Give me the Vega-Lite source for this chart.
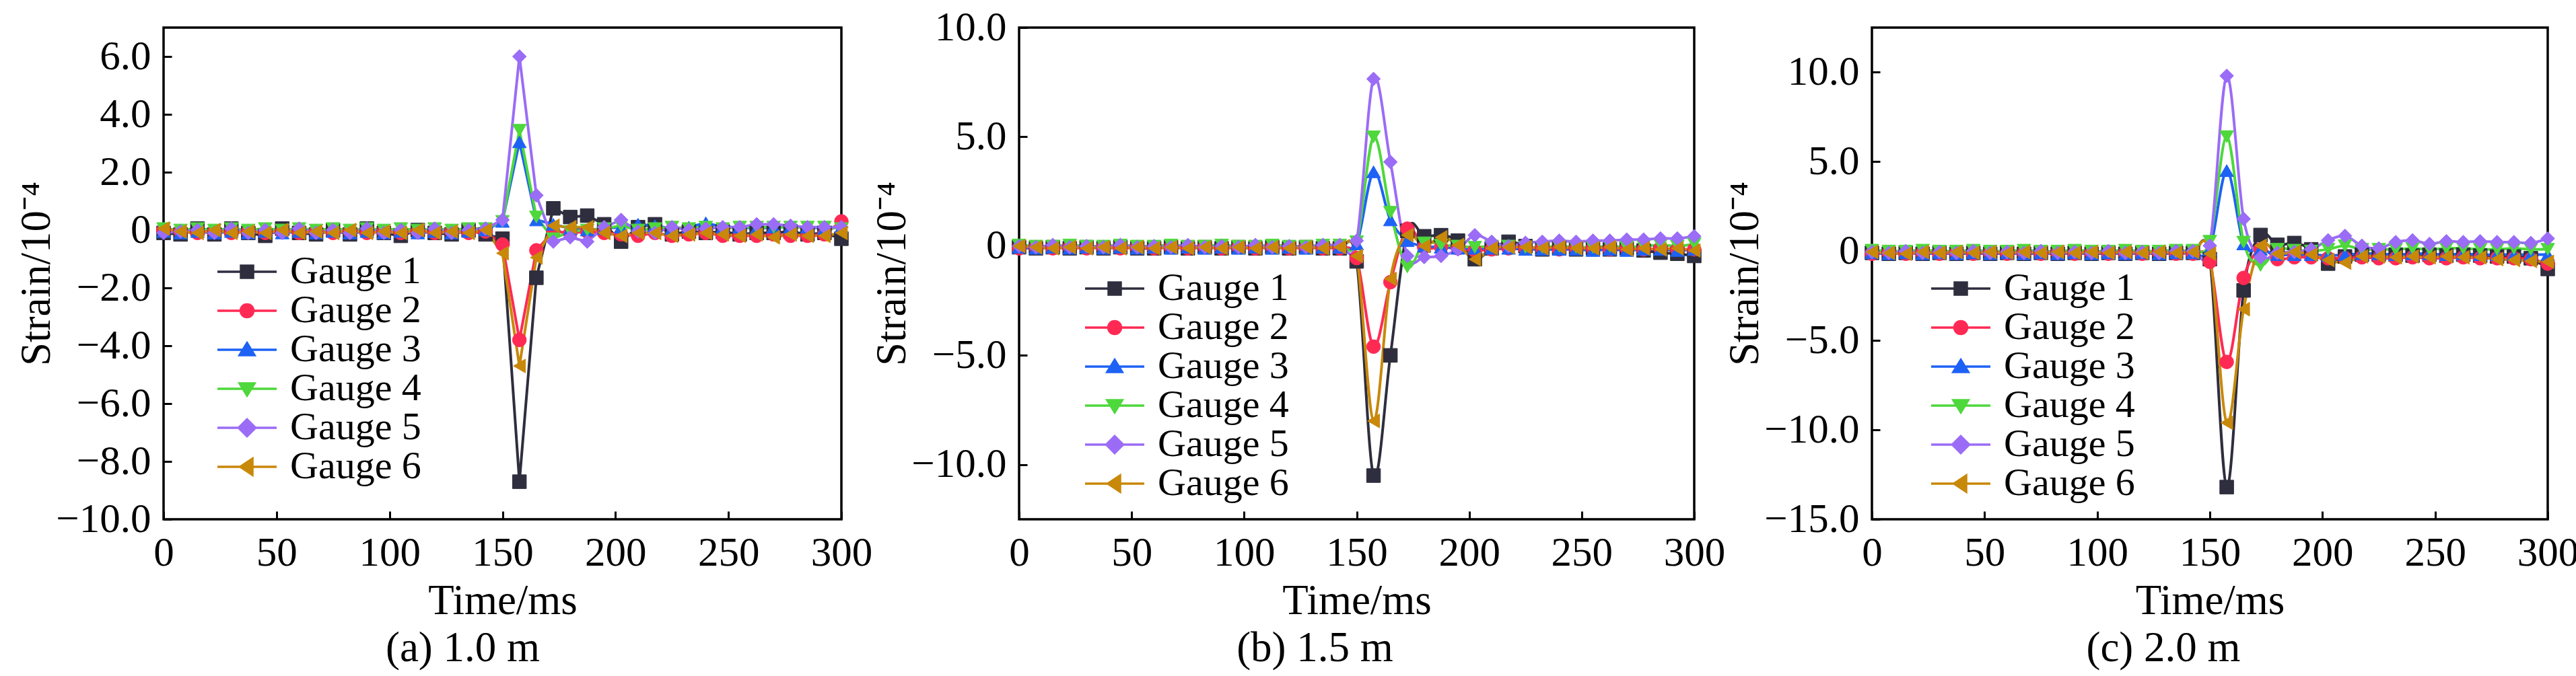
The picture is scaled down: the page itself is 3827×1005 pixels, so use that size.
{
  "$schema": "https://vega.github.io/schema/vega-lite/v6.json",
  "padding": {"left": 22, "top": 8, "right": 5, "bottom": 5},
  "background": "white",
  "datasets": {
    "a": [
      {"t": 0, "Gauge 1": -0.1, "Gauge 2": 0.0, "Gauge 3": -0.05, "Gauge 4": 0.05, "Gauge 5": -0.1, "Gauge 6": 0.05},
      {"t": 7.5, "Gauge 1": -0.15, "Gauge 2": -0.05, "Gauge 3": -0.1, "Gauge 4": 0.0, "Gauge 5": -0.05, "Gauge 6": -0.05},
      {"t": 15, "Gauge 1": 0.05, "Gauge 2": -0.1, "Gauge 3": -0.05, "Gauge 4": 0.05, "Gauge 5": 0.0, "Gauge 6": -0.1},
      {"t": 22.5, "Gauge 1": -0.15, "Gauge 2": -0.05, "Gauge 3": -0.1, "Gauge 4": 0.0, "Gauge 5": -0.1, "Gauge 6": 0.0},
      {"t": 30, "Gauge 1": 0.05, "Gauge 2": -0.1, "Gauge 3": -0.05, "Gauge 4": 0.05, "Gauge 5": 0.05, "Gauge 6": -0.1},
      {"t": 37.5, "Gauge 1": -0.1, "Gauge 2": -0.05, "Gauge 3": -0.1, "Gauge 4": 0.0, "Gauge 5": -0.1, "Gauge 6": -0.05},
      {"t": 45, "Gauge 1": -0.2, "Gauge 2": -0.1, "Gauge 3": -0.05, "Gauge 4": 0.05, "Gauge 5": 0.0, "Gauge 6": -0.1},
      {"t": 52.5, "Gauge 1": 0.05, "Gauge 2": -0.05, "Gauge 3": -0.1, "Gauge 4": 0.0, "Gauge 5": -0.1, "Gauge 6": 0.0},
      {"t": 60, "Gauge 1": -0.1, "Gauge 2": -0.1, "Gauge 3": -0.05, "Gauge 4": 0.05, "Gauge 5": 0.05, "Gauge 6": -0.1},
      {"t": 67.5, "Gauge 1": -0.15, "Gauge 2": -0.05, "Gauge 3": -0.1, "Gauge 4": 0.0, "Gauge 5": -0.1, "Gauge 6": -0.05},
      {"t": 75, "Gauge 1": 0.0, "Gauge 2": -0.1, "Gauge 3": -0.05, "Gauge 4": 0.05, "Gauge 5": 0.0, "Gauge 6": -0.1},
      {"t": 82.5, "Gauge 1": -0.15, "Gauge 2": -0.05, "Gauge 3": -0.1, "Gauge 4": 0.0, "Gauge 5": -0.1, "Gauge 6": 0.0},
      {"t": 90, "Gauge 1": 0.05, "Gauge 2": -0.1, "Gauge 3": -0.05, "Gauge 4": 0.05, "Gauge 5": 0.05, "Gauge 6": -0.1},
      {"t": 97.5, "Gauge 1": -0.1, "Gauge 2": -0.05, "Gauge 3": -0.1, "Gauge 4": 0.0, "Gauge 5": -0.1, "Gauge 6": -0.05},
      {"t": 105, "Gauge 1": -0.2, "Gauge 2": -0.1, "Gauge 3": -0.05, "Gauge 4": 0.05, "Gauge 5": 0.0, "Gauge 6": -0.1},
      {"t": 112.5, "Gauge 1": 0.0, "Gauge 2": -0.05, "Gauge 3": -0.1, "Gauge 4": 0.0, "Gauge 5": -0.1, "Gauge 6": 0.0},
      {"t": 120, "Gauge 1": -0.1, "Gauge 2": -0.1, "Gauge 3": -0.05, "Gauge 4": 0.05, "Gauge 5": 0.05, "Gauge 6": -0.1},
      {"t": 127.5, "Gauge 1": -0.15, "Gauge 2": -0.05, "Gauge 3": -0.1, "Gauge 4": 0.0, "Gauge 5": -0.1, "Gauge 6": -0.05},
      {"t": 135, "Gauge 1": 0.0, "Gauge 2": -0.1, "Gauge 3": -0.05, "Gauge 4": 0.05, "Gauge 5": 0.0, "Gauge 6": -0.1},
      {"t": 142.5, "Gauge 1": -0.15, "Gauge 2": -0.05, "Gauge 3": 0.0, "Gauge 4": 0.05, "Gauge 5": 0.05, "Gauge 6": 0.0},
      {"t": 150, "Gauge 1": -0.3, "Gauge 2": -0.5, "Gauge 3": 0.3, "Gauge 4": 0.3, "Gauge 5": 0.35, "Gauge 6": -0.8},
      {"t": 157.5, "Gauge 1": -8.7, "Gauge 2": -3.8, "Gauge 3": 3.05, "Gauge 4": 3.45, "Gauge 5": 6.0, "Gauge 6": -4.7},
      {"t": 165, "Gauge 1": -1.65, "Gauge 2": -0.7, "Gauge 3": 0.35, "Gauge 4": 0.45, "Gauge 5": 1.2, "Gauge 6": -0.95},
      {"t": 172.5, "Gauge 1": 0.75, "Gauge 2": -0.05, "Gauge 3": 0.2, "Gauge 4": -0.3, "Gauge 5": -0.4, "Gauge 6": 0.15},
      {"t": 180, "Gauge 1": 0.45, "Gauge 2": -0.1, "Gauge 3": 0.05, "Gauge 4": -0.05, "Gauge 5": -0.25, "Gauge 6": 0.1},
      {"t": 187.5, "Gauge 1": 0.5, "Gauge 2": -0.05, "Gauge 3": 0.0, "Gauge 4": 0.0, "Gauge 5": -0.4, "Gauge 6": 0.1},
      {"t": 195, "Gauge 1": 0.2, "Gauge 2": -0.1, "Gauge 3": 0.05, "Gauge 4": 0.05, "Gauge 5": 0.1, "Gauge 6": -0.1},
      {"t": 202.5, "Gauge 1": -0.4, "Gauge 2": -0.15, "Gauge 3": 0.1, "Gauge 4": 0.15, "Gauge 5": 0.35, "Gauge 6": -0.2},
      {"t": 210, "Gauge 1": 0.1, "Gauge 2": -0.2, "Gauge 3": 0.2, "Gauge 4": 0.0, "Gauge 5": -0.05, "Gauge 6": -0.1},
      {"t": 217.5, "Gauge 1": 0.2, "Gauge 2": -0.1, "Gauge 3": 0.15, "Gauge 4": 0.05, "Gauge 5": -0.1, "Gauge 6": -0.1},
      {"t": 225, "Gauge 1": -0.15, "Gauge 2": -0.2, "Gauge 3": 0.05, "Gauge 4": 0.1, "Gauge 5": 0.1, "Gauge 6": -0.2},
      {"t": 232.5, "Gauge 1": -0.05, "Gauge 2": -0.15, "Gauge 3": 0.1, "Gauge 4": 0.05, "Gauge 5": 0.0, "Gauge 6": -0.15},
      {"t": 240, "Gauge 1": -0.1, "Gauge 2": -0.1, "Gauge 3": 0.25, "Gauge 4": 0.1, "Gauge 5": 0.05, "Gauge 6": -0.1},
      {"t": 247.5, "Gauge 1": -0.05, "Gauge 2": -0.2, "Gauge 3": 0.1, "Gauge 4": 0.05, "Gauge 5": 0.1, "Gauge 6": -0.15},
      {"t": 255, "Gauge 1": -0.15, "Gauge 2": -0.2, "Gauge 3": 0.1, "Gauge 4": 0.1, "Gauge 5": 0.1, "Gauge 6": -0.2},
      {"t": 262.5, "Gauge 1": -0.1, "Gauge 2": -0.2, "Gauge 3": 0.05, "Gauge 4": 0.1, "Gauge 5": 0.2, "Gauge 6": -0.15},
      {"t": 270, "Gauge 1": -0.1, "Gauge 2": -0.15, "Gauge 3": 0.1, "Gauge 4": 0.1, "Gauge 5": 0.2, "Gauge 6": -0.25},
      {"t": 277.5, "Gauge 1": -0.05, "Gauge 2": -0.2, "Gauge 3": 0.1, "Gauge 4": 0.1, "Gauge 5": 0.15, "Gauge 6": -0.15},
      {"t": 285, "Gauge 1": -0.15, "Gauge 2": -0.2, "Gauge 3": 0.1, "Gauge 4": 0.1, "Gauge 5": 0.1, "Gauge 6": -0.2},
      {"t": 292.5, "Gauge 1": -0.1, "Gauge 2": -0.15, "Gauge 3": 0.05, "Gauge 4": 0.1, "Gauge 5": 0.1, "Gauge 6": -0.2},
      {"t": 300, "Gauge 1": -0.3, "Gauge 2": 0.3, "Gauge 3": 0.1, "Gauge 4": 0.05, "Gauge 5": 0.1, "Gauge 6": -0.1}
    ],
    "b": [
      {"t": 0, "Gauge 1": -0.05, "Gauge 2": -0.1, "Gauge 3": -0.05, "Gauge 4": 0.05, "Gauge 5": 0.0, "Gauge 6": 0.0},
      {"t": 7.5, "Gauge 1": -0.1, "Gauge 2": -0.05, "Gauge 3": -0.1, "Gauge 4": 0.0, "Gauge 5": -0.05, "Gauge 6": -0.05},
      {"t": 15, "Gauge 1": -0.05, "Gauge 2": -0.1, "Gauge 3": -0.05, "Gauge 4": 0.0, "Gauge 5": 0.05, "Gauge 6": -0.1},
      {"t": 22.5, "Gauge 1": -0.1, "Gauge 2": -0.05, "Gauge 3": -0.1, "Gauge 4": 0.05, "Gauge 5": -0.05, "Gauge 6": -0.05},
      {"t": 30, "Gauge 1": -0.05, "Gauge 2": -0.1, "Gauge 3": -0.05, "Gauge 4": 0.0, "Gauge 5": 0.0, "Gauge 6": -0.1},
      {"t": 37.5, "Gauge 1": -0.1, "Gauge 2": -0.05, "Gauge 3": -0.1, "Gauge 4": 0.0, "Gauge 5": -0.05, "Gauge 6": -0.05},
      {"t": 45, "Gauge 1": -0.05, "Gauge 2": -0.1, "Gauge 3": -0.05, "Gauge 4": 0.05, "Gauge 5": 0.05, "Gauge 6": -0.1},
      {"t": 52.5, "Gauge 1": -0.1, "Gauge 2": -0.05, "Gauge 3": -0.1, "Gauge 4": 0.0, "Gauge 5": -0.05, "Gauge 6": -0.05},
      {"t": 60, "Gauge 1": -0.1, "Gauge 2": -0.1, "Gauge 3": -0.05, "Gauge 4": 0.0, "Gauge 5": 0.0, "Gauge 6": -0.1},
      {"t": 67.5, "Gauge 1": -0.05, "Gauge 2": -0.05, "Gauge 3": -0.1, "Gauge 4": 0.05, "Gauge 5": -0.05, "Gauge 6": -0.05},
      {"t": 75, "Gauge 1": -0.1, "Gauge 2": -0.1, "Gauge 3": -0.05, "Gauge 4": 0.0, "Gauge 5": 0.05, "Gauge 6": -0.1},
      {"t": 82.5, "Gauge 1": -0.05, "Gauge 2": -0.05, "Gauge 3": -0.1, "Gauge 4": 0.0, "Gauge 5": -0.05, "Gauge 6": -0.05},
      {"t": 90, "Gauge 1": -0.1, "Gauge 2": -0.1, "Gauge 3": -0.05, "Gauge 4": 0.05, "Gauge 5": 0.0, "Gauge 6": -0.1},
      {"t": 97.5, "Gauge 1": -0.05, "Gauge 2": -0.05, "Gauge 3": -0.1, "Gauge 4": 0.0, "Gauge 5": -0.05, "Gauge 6": -0.05},
      {"t": 105, "Gauge 1": -0.1, "Gauge 2": -0.1, "Gauge 3": -0.05, "Gauge 4": 0.0, "Gauge 5": 0.05, "Gauge 6": -0.1},
      {"t": 112.5, "Gauge 1": -0.05, "Gauge 2": -0.05, "Gauge 3": -0.1, "Gauge 4": 0.05, "Gauge 5": -0.05, "Gauge 6": -0.05},
      {"t": 120, "Gauge 1": -0.1, "Gauge 2": -0.1, "Gauge 3": -0.05, "Gauge 4": 0.0, "Gauge 5": 0.0, "Gauge 6": -0.1},
      {"t": 127.5, "Gauge 1": -0.05, "Gauge 2": -0.05, "Gauge 3": -0.1, "Gauge 4": 0.0, "Gauge 5": -0.05, "Gauge 6": -0.05},
      {"t": 135, "Gauge 1": -0.1, "Gauge 2": -0.1, "Gauge 3": -0.05, "Gauge 4": 0.05, "Gauge 5": 0.05, "Gauge 6": -0.1},
      {"t": 142.5, "Gauge 1": -0.1, "Gauge 2": -0.1, "Gauge 3": -0.05, "Gauge 4": 0.05, "Gauge 5": 0.05, "Gauge 6": -0.05},
      {"t": 150, "Gauge 1": -0.7, "Gauge 2": -0.55, "Gauge 3": 0.1, "Gauge 4": 0.2, "Gauge 5": 0.25, "Gauge 6": -0.45},
      {"t": 157.5, "Gauge 1": -10.5, "Gauge 2": -4.6, "Gauge 3": 3.4, "Gauge 4": 5.0, "Gauge 5": 7.65, "Gauge 6": -8.0},
      {"t": 165, "Gauge 1": -5.0, "Gauge 2": -1.65, "Gauge 3": 1.2, "Gauge 4": 1.55, "Gauge 5": 3.85, "Gauge 6": -1.5},
      {"t": 172.5, "Gauge 1": 0.7, "Gauge 2": 0.8, "Gauge 3": 0.25, "Gauge 4": -0.95, "Gauge 5": -0.45, "Gauge 6": 0.5},
      {"t": 180, "Gauge 1": 0.45, "Gauge 2": -0.05, "Gauge 3": 0.0, "Gauge 4": 0.15, "Gauge 5": -0.5, "Gauge 6": 0.0},
      {"t": 187.5, "Gauge 1": 0.5, "Gauge 2": -0.05, "Gauge 3": -0.05, "Gauge 4": 0.05, "Gauge 5": -0.45, "Gauge 6": 0.4},
      {"t": 195, "Gauge 1": 0.25, "Gauge 2": -0.1, "Gauge 3": -0.1, "Gauge 4": 0.0, "Gauge 5": -0.15, "Gauge 6": 0.05},
      {"t": 202.5, "Gauge 1": -0.6, "Gauge 2": -0.2, "Gauge 3": -0.1, "Gauge 4": -0.05, "Gauge 5": 0.5, "Gauge 6": -0.6},
      {"t": 210, "Gauge 1": -0.1, "Gauge 2": -0.15, "Gauge 3": -0.1, "Gauge 4": 0.0, "Gauge 5": 0.2, "Gauge 6": -0.1},
      {"t": 217.5, "Gauge 1": 0.2, "Gauge 2": -0.1, "Gauge 3": -0.1, "Gauge 4": 0.0, "Gauge 5": 0.0, "Gauge 6": -0.05},
      {"t": 225, "Gauge 1": 0.0, "Gauge 2": -0.1, "Gauge 3": -0.15, "Gauge 4": -0.05, "Gauge 5": 0.15, "Gauge 6": -0.05},
      {"t": 232.5, "Gauge 1": -0.15, "Gauge 2": -0.1, "Gauge 3": -0.15, "Gauge 4": -0.05, "Gauge 5": 0.2, "Gauge 6": -0.1},
      {"t": 240, "Gauge 1": -0.1, "Gauge 2": -0.15, "Gauge 3": -0.15, "Gauge 4": 0.0, "Gauge 5": 0.25, "Gauge 6": -0.05},
      {"t": 247.5, "Gauge 1": -0.15, "Gauge 2": -0.1, "Gauge 3": -0.15, "Gauge 4": -0.05, "Gauge 5": 0.2, "Gauge 6": -0.1},
      {"t": 255, "Gauge 1": -0.1, "Gauge 2": -0.1, "Gauge 3": -0.2, "Gauge 4": -0.05, "Gauge 5": 0.25, "Gauge 6": -0.1},
      {"t": 262.5, "Gauge 1": -0.15, "Gauge 2": -0.15, "Gauge 3": -0.15, "Gauge 4": 0.0, "Gauge 5": 0.25, "Gauge 6": -0.05},
      {"t": 270, "Gauge 1": -0.1, "Gauge 2": -0.1, "Gauge 3": -0.2, "Gauge 4": -0.05, "Gauge 5": 0.3, "Gauge 6": -0.15},
      {"t": 277.5, "Gauge 1": -0.2, "Gauge 2": -0.15, "Gauge 3": -0.15, "Gauge 4": 0.0, "Gauge 5": 0.3, "Gauge 6": -0.1},
      {"t": 285, "Gauge 1": -0.3, "Gauge 2": -0.1, "Gauge 3": -0.15, "Gauge 4": 0.05, "Gauge 5": 0.35, "Gauge 6": -0.15},
      {"t": 292.5, "Gauge 1": -0.35, "Gauge 2": -0.15, "Gauge 3": -0.2, "Gauge 4": 0.0, "Gauge 5": 0.35, "Gauge 6": -0.1},
      {"t": 300, "Gauge 1": -0.45, "Gauge 2": -0.15, "Gauge 3": -0.15, "Gauge 4": 0.1, "Gauge 5": 0.45, "Gauge 6": -0.2}
    ],
    "c": [
      {"t": 0, "Gauge 1": -0.1, "Gauge 2": -0.15, "Gauge 3": -0.1, "Gauge 4": 0.05, "Gauge 5": -0.05, "Gauge 6": -0.05},
      {"t": 7.5, "Gauge 1": -0.15, "Gauge 2": -0.1, "Gauge 3": -0.15, "Gauge 4": 0.0, "Gauge 5": -0.1, "Gauge 6": -0.1},
      {"t": 15, "Gauge 1": -0.1, "Gauge 2": -0.15, "Gauge 3": -0.1, "Gauge 4": 0.0, "Gauge 5": 0.0, "Gauge 6": -0.15},
      {"t": 22.5, "Gauge 1": -0.15, "Gauge 2": -0.1, "Gauge 3": -0.15, "Gauge 4": 0.05, "Gauge 5": -0.1, "Gauge 6": -0.05},
      {"t": 30, "Gauge 1": -0.1, "Gauge 2": -0.15, "Gauge 3": -0.1, "Gauge 4": 0.0, "Gauge 5": -0.05, "Gauge 6": -0.1},
      {"t": 37.5, "Gauge 1": -0.15, "Gauge 2": -0.1, "Gauge 3": -0.15, "Gauge 4": 0.0, "Gauge 5": -0.1, "Gauge 6": -0.05},
      {"t": 45, "Gauge 1": -0.1, "Gauge 2": -0.15, "Gauge 3": -0.1, "Gauge 4": 0.05, "Gauge 5": 0.0, "Gauge 6": -0.1},
      {"t": 52.5, "Gauge 1": -0.15, "Gauge 2": -0.1, "Gauge 3": -0.15, "Gauge 4": 0.0, "Gauge 5": -0.1, "Gauge 6": -0.05},
      {"t": 60, "Gauge 1": -0.1, "Gauge 2": -0.15, "Gauge 3": -0.1, "Gauge 4": 0.0, "Gauge 5": -0.05, "Gauge 6": -0.1},
      {"t": 67.5, "Gauge 1": -0.15, "Gauge 2": -0.1, "Gauge 3": -0.15, "Gauge 4": 0.05, "Gauge 5": -0.1, "Gauge 6": -0.05},
      {"t": 75, "Gauge 1": -0.1, "Gauge 2": -0.15, "Gauge 3": -0.1, "Gauge 4": 0.0, "Gauge 5": 0.0, "Gauge 6": -0.1},
      {"t": 82.5, "Gauge 1": -0.15, "Gauge 2": -0.1, "Gauge 3": -0.15, "Gauge 4": 0.0, "Gauge 5": -0.1, "Gauge 6": -0.05},
      {"t": 90, "Gauge 1": -0.1, "Gauge 2": -0.15, "Gauge 3": -0.1, "Gauge 4": 0.05, "Gauge 5": -0.05, "Gauge 6": -0.1},
      {"t": 97.5, "Gauge 1": -0.15, "Gauge 2": -0.1, "Gauge 3": -0.15, "Gauge 4": 0.0, "Gauge 5": -0.1, "Gauge 6": -0.05},
      {"t": 105, "Gauge 1": -0.1, "Gauge 2": -0.15, "Gauge 3": -0.1, "Gauge 4": 0.0, "Gauge 5": 0.0, "Gauge 6": -0.1},
      {"t": 112.5, "Gauge 1": -0.15, "Gauge 2": -0.1, "Gauge 3": -0.15, "Gauge 4": 0.05, "Gauge 5": -0.1, "Gauge 6": -0.05},
      {"t": 120, "Gauge 1": -0.1, "Gauge 2": -0.15, "Gauge 3": -0.1, "Gauge 4": 0.0, "Gauge 5": -0.05, "Gauge 6": -0.1},
      {"t": 127.5, "Gauge 1": -0.15, "Gauge 2": -0.1, "Gauge 3": -0.15, "Gauge 4": 0.0, "Gauge 5": -0.1, "Gauge 6": -0.05},
      {"t": 135, "Gauge 1": -0.1, "Gauge 2": -0.15, "Gauge 3": -0.1, "Gauge 4": 0.05, "Gauge 5": 0.0, "Gauge 6": -0.1},
      {"t": 142.5, "Gauge 1": -0.1, "Gauge 2": -0.15, "Gauge 3": -0.1, "Gauge 4": 0.05, "Gauge 5": 0.0, "Gauge 6": -0.05},
      {"t": 150, "Gauge 1": -0.45, "Gauge 2": -0.6, "Gauge 3": 0.1, "Gauge 4": 0.55, "Gauge 5": 0.3, "Gauge 6": -0.15},
      {"t": 157.5, "Gauge 1": -13.2, "Gauge 2": -6.2, "Gauge 3": 4.5, "Gauge 4": 6.4, "Gauge 5": 9.8, "Gauge 6": -9.6},
      {"t": 165, "Gauge 1": -2.2, "Gauge 2": -1.5, "Gauge 3": 0.4, "Gauge 4": 0.5, "Gauge 5": 1.8, "Gauge 6": -3.25},
      {"t": 172.5, "Gauge 1": 0.9, "Gauge 2": 0.1, "Gauge 3": 0.1, "Gauge 4": -0.8, "Gauge 5": -0.35, "Gauge 6": 0.3},
      {"t": 180, "Gauge 1": 0.35, "Gauge 2": -0.45, "Gauge 3": -0.2, "Gauge 4": 0.1, "Gauge 5": -0.1, "Gauge 6": -0.15},
      {"t": 187.5, "Gauge 1": 0.45, "Gauge 2": -0.35, "Gauge 3": -0.2, "Gauge 4": 0.05, "Gauge 5": -0.05, "Gauge 6": -0.05},
      {"t": 195, "Gauge 1": 0.1, "Gauge 2": -0.35, "Gauge 3": -0.2, "Gauge 4": 0.0, "Gauge 5": 0.1, "Gauge 6": -0.2},
      {"t": 202.5, "Gauge 1": -0.7, "Gauge 2": -0.4, "Gauge 3": -0.25, "Gauge 4": 0.1, "Gauge 5": 0.6, "Gauge 6": -0.5},
      {"t": 210, "Gauge 1": -0.3, "Gauge 2": -0.4, "Gauge 3": -0.2, "Gauge 4": 0.3, "Gauge 5": 0.85, "Gauge 6": -0.65},
      {"t": 217.5, "Gauge 1": -0.2, "Gauge 2": -0.35, "Gauge 3": -0.15, "Gauge 4": 0.1, "Gauge 5": 0.3, "Gauge 6": -0.3},
      {"t": 225, "Gauge 1": -0.2, "Gauge 2": -0.4, "Gauge 3": -0.15, "Gauge 4": 0.1, "Gauge 5": 0.15, "Gauge 6": -0.3},
      {"t": 232.5, "Gauge 1": -0.2, "Gauge 2": -0.4, "Gauge 3": -0.2, "Gauge 4": 0.1, "Gauge 5": 0.5, "Gauge 6": -0.35},
      {"t": 240, "Gauge 1": -0.25, "Gauge 2": -0.35, "Gauge 3": -0.15, "Gauge 4": 0.15, "Gauge 5": 0.6, "Gauge 6": -0.3},
      {"t": 247.5, "Gauge 1": -0.2, "Gauge 2": -0.4, "Gauge 3": -0.15, "Gauge 4": 0.1, "Gauge 5": 0.4, "Gauge 6": -0.35},
      {"t": 255, "Gauge 1": -0.25, "Gauge 2": -0.4, "Gauge 3": -0.2, "Gauge 4": 0.15, "Gauge 5": 0.55, "Gauge 6": -0.3},
      {"t": 262.5, "Gauge 1": -0.2, "Gauge 2": -0.35, "Gauge 3": -0.15, "Gauge 4": 0.15, "Gauge 5": 0.5, "Gauge 6": -0.35},
      {"t": 270, "Gauge 1": -0.25, "Gauge 2": -0.4, "Gauge 3": -0.2, "Gauge 4": 0.1, "Gauge 5": 0.55, "Gauge 6": -0.35},
      {"t": 277.5, "Gauge 1": -0.3, "Gauge 2": -0.4, "Gauge 3": -0.2, "Gauge 4": 0.1, "Gauge 5": 0.5, "Gauge 6": -0.45},
      {"t": 285, "Gauge 1": -0.3, "Gauge 2": -0.4, "Gauge 3": -0.2, "Gauge 4": 0.15, "Gauge 5": 0.5, "Gauge 6": -0.5},
      {"t": 292.5, "Gauge 1": -0.4, "Gauge 2": -0.45, "Gauge 3": -0.2, "Gauge 4": 0.1, "Gauge 5": 0.45, "Gauge 6": -0.55},
      {"t": 300, "Gauge 1": -1.0, "Gauge 2": -0.7, "Gauge 3": -0.2, "Gauge 4": 0.1, "Gauge 5": 0.7, "Gauge 6": -0.6}
    ]
  },
  "bounds": "flush",
  "spacing": 264,
  "hconcat": [
    {
      "width": 1007,
      "height": 731,
      "title": {"text": "(a) 1.0 m", "orient": "bottom", "dx": -59, "offset": 8},
      "data": {"name": "a"},
      "transform": [{"fold": ["Gauge 1", "Gauge 2", "Gauge 3", "Gauge 4", "Gauge 5", "Gauge 6"], "as": ["gauge", "strain"]}],
      "encoding": {
        "x": {"field": "t", "type": "quantitative", "scale": {"domain": [0, 300], "nice": false}, "axis": {"values": [0, 50, 100, 150, 200, 250, 300], "title": "Time/ms"}},
        "y": {"field": "strain", "type": "quantitative", "scale": {"domain": [-10, 7], "nice": false, "zero": false}, "axis": {"values": [-10, -8, -6, -4, -2, 0, 2, 4, 6], "title": "Strain/10⁻⁴", "labelExpr": "datum.value == 0 ? '0' : format(datum.value, '.1f')"}}
      },
      "layer": [
        {
          "mark": {"type": "line", "strokeWidth": 4, "interpolate": "linear", "clip": true},
          "encoding": {"color": {"field": "gauge", "type": "nominal", "legend": null}}
        },
        {
          "mark": {"type": "point", "filled": true, "opacity": 1, "size": 420, "strokeWidth": 1},
          "encoding": {
            "fill": {"field": "gauge", "type": "nominal", "legend": null},
            "stroke": {"field": "gauge", "type": "nominal", "legend": null},
            "shape": {"field": "gauge", "type": "nominal", "legend": null}
          }
        },
        {
          "transform": [{"filter": "datum.t < 0"}],
          "mark": {"type": "point", "filled": true, "opacity": 1},
          "encoding": {
            "fill": {"field": "gauge", "type": "nominal", "title": null, "scale": {"domain": ["Gauge 1", "Gauge 2", "Gauge 3", "Gauge 4", "Gauge 5", "Gauge 6"]},
              "legend": {"orient": "none", "legendX": 80, "legendY": 334, "title": null, "symbolSize": 400, "symbolOffset": 15, "labelOffset": 35, "symbolStrokeWidth": 3.5, "padding": 0, "rowPadding": 0, "labelFont": "Liberation Serif", "labelFontSize": 58, "labelColor": "black", "labelLimit": 1000}},
            "stroke": {"field": "gauge", "type": "nominal", "title": null, "scale": {"domain": ["Gauge 1", "Gauge 2", "Gauge 3", "Gauge 4", "Gauge 5", "Gauge 6"]},
              "legend": {"orient": "none", "legendX": 80, "legendY": 334, "title": null, "symbolSize": 400, "symbolOffset": 15, "labelOffset": 35, "symbolStrokeWidth": 3.5, "padding": 0, "rowPadding": 0, "labelFont": "Liberation Serif", "labelFontSize": 58, "labelColor": "black", "labelLimit": 1000}},
            "shape": {"field": "gauge", "type": "nominal", "title": null, "scale": {"domain": ["Gauge 1", "Gauge 2", "Gauge 3", "Gauge 4", "Gauge 5", "Gauge 6"], "range": ["M-4.4,0H4.4M-0.9,-0.9H0.9V0.9H-0.9Z", "M-4.4,0H4.4M0.95,0A0.95 0.95 0 1 1 -0.95 0A0.95 0.95 0 1 1 0.95 0Z", "M-4.4,0H4.4M0,-1L1.1,0.8H-1.1Z", "M-4.4,0H4.4M0,1L1.1,-0.8H-1.1Z", "M-4.4,0H4.4M0,-1.25L1.25,0L0,1.25L-1.25,0Z", "M-4.4,0H4.4M-1,0L0.8,-1.2V1.2Z"]},
              "legend": {"orient": "none", "legendX": 80, "legendY": 334, "title": null, "symbolSize": 400, "symbolOffset": 15, "labelOffset": 35, "symbolStrokeWidth": 3.5, "padding": 0, "rowPadding": 0, "labelFont": "Liberation Serif", "labelFontSize": 58, "labelColor": "black", "labelLimit": 1000}}
          }
        }
      ],
      "resolve": {"scale": {"color": "independent", "fill": "independent", "stroke": "independent", "shape": "independent"}, "legend": {"color": "independent", "fill": "independent", "stroke": "independent", "shape": "independent"}}
    },
    {
      "width": 1003,
      "height": 731,
      "title": {"text": "(b) 1.5 m", "orient": "bottom", "dx": -62, "offset": 8},
      "data": {"name": "b"},
      "transform": [{"fold": ["Gauge 1", "Gauge 2", "Gauge 3", "Gauge 4", "Gauge 5", "Gauge 6"], "as": ["gauge", "strain"]}],
      "encoding": {
        "x": {"field": "t", "type": "quantitative", "scale": {"domain": [0, 300], "nice": false}, "axis": {"values": [0, 50, 100, 150, 200, 250, 300], "title": "Time/ms"}},
        "y": {"field": "strain", "type": "quantitative", "scale": {"domain": [-12.5, 10], "nice": false, "zero": false}, "axis": {"values": [-10, -5, 0, 5, 10], "title": "Strain/10⁻⁴", "labelExpr": "datum.value == 0 ? '0' : format(datum.value, '.1f')"}}
      },
      "layer": [
        {
          "mark": {"type": "line", "strokeWidth": 4, "interpolate": "cardinal", "clip": true},
          "encoding": {"color": {"field": "gauge", "type": "nominal", "legend": null}}
        },
        {
          "mark": {"type": "point", "filled": true, "opacity": 1, "size": 420, "strokeWidth": 1},
          "encoding": {
            "fill": {"field": "gauge", "type": "nominal", "legend": null},
            "stroke": {"field": "gauge", "type": "nominal", "legend": null},
            "shape": {"field": "gauge", "type": "nominal", "legend": null}
          }
        },
        {
          "transform": [{"filter": "datum.t < 0"}],
          "mark": {"type": "point", "filled": true, "opacity": 1},
          "encoding": {
            "fill": {"field": "gauge", "type": "nominal", "title": null, "scale": {"domain": ["Gauge 1", "Gauge 2", "Gauge 3", "Gauge 4", "Gauge 5", "Gauge 6"]},
              "legend": {"orient": "none", "legendX": 98, "legendY": 359, "title": null, "symbolSize": 400, "symbolOffset": 15, "labelOffset": 35, "symbolStrokeWidth": 3.5, "padding": 0, "rowPadding": 0, "labelFont": "Liberation Serif", "labelFontSize": 58, "labelColor": "black", "labelLimit": 1000}},
            "stroke": {"field": "gauge", "type": "nominal", "title": null, "scale": {"domain": ["Gauge 1", "Gauge 2", "Gauge 3", "Gauge 4", "Gauge 5", "Gauge 6"]},
              "legend": {"orient": "none", "legendX": 98, "legendY": 359, "title": null, "symbolSize": 400, "symbolOffset": 15, "labelOffset": 35, "symbolStrokeWidth": 3.5, "padding": 0, "rowPadding": 0, "labelFont": "Liberation Serif", "labelFontSize": 58, "labelColor": "black", "labelLimit": 1000}},
            "shape": {"field": "gauge", "type": "nominal", "title": null, "scale": {"domain": ["Gauge 1", "Gauge 2", "Gauge 3", "Gauge 4", "Gauge 5", "Gauge 6"], "range": ["M-4.4,0H4.4M-0.9,-0.9H0.9V0.9H-0.9Z", "M-4.4,0H4.4M0.95,0A0.95 0.95 0 1 1 -0.95 0A0.95 0.95 0 1 1 0.95 0Z", "M-4.4,0H4.4M0,-1L1.1,0.8H-1.1Z", "M-4.4,0H4.4M0,1L1.1,-0.8H-1.1Z", "M-4.4,0H4.4M0,-1.25L1.25,0L0,1.25L-1.25,0Z", "M-4.4,0H4.4M-1,0L0.8,-1.2V1.2Z"]},
              "legend": {"orient": "none", "legendX": 98, "legendY": 359, "title": null, "symbolSize": 400, "symbolOffset": 15, "labelOffset": 35, "symbolStrokeWidth": 3.5, "padding": 0, "rowPadding": 0, "labelFont": "Liberation Serif", "labelFontSize": 58, "labelColor": "black", "labelLimit": 1000}}
          }
        }
      ],
      "resolve": {"scale": {"color": "independent", "fill": "independent", "stroke": "independent", "shape": "independent"}, "legend": {"color": "independent", "fill": "independent", "stroke": "independent", "shape": "independent"}}
    },
    {
      "width": 1004,
      "height": 731,
      "title": {"text": "(c) 2.0 m", "orient": "bottom", "dx": -69, "offset": 8},
      "data": {"name": "c"},
      "transform": [{"fold": ["Gauge 1", "Gauge 2", "Gauge 3", "Gauge 4", "Gauge 5", "Gauge 6"], "as": ["gauge", "strain"]}],
      "encoding": {
        "x": {"field": "t", "type": "quantitative", "scale": {"domain": [0, 300], "nice": false}, "axis": {"values": [0, 50, 100, 150, 200, 250, 300], "title": "Time/ms"}},
        "y": {"field": "strain", "type": "quantitative", "scale": {"domain": [-15, 12.5], "nice": false, "zero": false}, "axis": {"values": [-15, -10, -5, 0, 5, 10], "title": "Strain/10⁻⁴", "labelExpr": "datum.value == 0 ? '0' : format(datum.value, '.1f')"}}
      },
      "layer": [
        {
          "mark": {"type": "line", "strokeWidth": 4, "interpolate": "cardinal", "clip": true},
          "encoding": {"color": {"field": "gauge", "type": "nominal", "legend": null}}
        },
        {
          "mark": {"type": "point", "filled": true, "opacity": 1, "size": 420, "strokeWidth": 1},
          "encoding": {
            "fill": {"field": "gauge", "type": "nominal", "legend": null},
            "stroke": {"field": "gauge", "type": "nominal", "legend": null},
            "shape": {"field": "gauge", "type": "nominal", "legend": null}
          }
        },
        {
          "transform": [{"filter": "datum.t < 0"}],
          "mark": {"type": "point", "filled": true, "opacity": 1},
          "encoding": {
            "fill": {"field": "gauge", "type": "nominal", "title": null, "scale": {"domain": ["Gauge 1", "Gauge 2", "Gauge 3", "Gauge 4", "Gauge 5", "Gauge 6"]},
              "legend": {"orient": "none", "legendX": 88, "legendY": 359, "title": null, "symbolSize": 400, "symbolOffset": 15, "labelOffset": 35, "symbolStrokeWidth": 3.5, "padding": 0, "rowPadding": 0, "labelFont": "Liberation Serif", "labelFontSize": 58, "labelColor": "black", "labelLimit": 1000}},
            "stroke": {"field": "gauge", "type": "nominal", "title": null, "scale": {"domain": ["Gauge 1", "Gauge 2", "Gauge 3", "Gauge 4", "Gauge 5", "Gauge 6"]},
              "legend": {"orient": "none", "legendX": 88, "legendY": 359, "title": null, "symbolSize": 400, "symbolOffset": 15, "labelOffset": 35, "symbolStrokeWidth": 3.5, "padding": 0, "rowPadding": 0, "labelFont": "Liberation Serif", "labelFontSize": 58, "labelColor": "black", "labelLimit": 1000}},
            "shape": {"field": "gauge", "type": "nominal", "title": null, "scale": {"domain": ["Gauge 1", "Gauge 2", "Gauge 3", "Gauge 4", "Gauge 5", "Gauge 6"], "range": ["M-4.4,0H4.4M-0.9,-0.9H0.9V0.9H-0.9Z", "M-4.4,0H4.4M0.95,0A0.95 0.95 0 1 1 -0.95 0A0.95 0.95 0 1 1 0.95 0Z", "M-4.4,0H4.4M0,-1L1.1,0.8H-1.1Z", "M-4.4,0H4.4M0,1L1.1,-0.8H-1.1Z", "M-4.4,0H4.4M0,-1.25L1.25,0L0,1.25L-1.25,0Z", "M-4.4,0H4.4M-1,0L0.8,-1.2V1.2Z"]},
              "legend": {"orient": "none", "legendX": 88, "legendY": 359, "title": null, "symbolSize": 400, "symbolOffset": 15, "labelOffset": 35, "symbolStrokeWidth": 3.5, "padding": 0, "rowPadding": 0, "labelFont": "Liberation Serif", "labelFontSize": 58, "labelColor": "black", "labelLimit": 1000}}
          }
        }
      ],
      "resolve": {"scale": {"color": "independent", "fill": "independent", "stroke": "independent", "shape": "independent"}, "legend": {"color": "independent", "fill": "independent", "stroke": "independent", "shape": "independent"}}
    }
  ],
  "resolve": {"scale": {"color": "independent", "fill": "independent", "stroke": "independent", "shape": "independent"}, "legend": {"color": "independent", "fill": "independent", "stroke": "independent", "shape": "independent"}},
  "config": {
    "font": "Liberation Serif",
    "range": {"category": ["#2e2e3e", "#ff2a54", "#1e62f5", "#4ed83c", "#9b6cf6", "#c8880a"], "symbol": ["square", "circle", "triangle-up", "triangle-down", "diamond", "triangle-left"]},
    "view": {"stroke": "black", "strokeWidth": 3.5},
    "axis": {
      "labelFont": "Liberation Serif", "labelFontSize": 61, "labelColor": "black", "labelFlush": false, "labelOverlap": false,
      "titleFont": "Liberation Serif", "titleFontSize": 63, "titleFontWeight": "normal", "titleColor": "black",
      "domain": false, "grid": false, "ticks": true, "tickColor": "black", "tickWidth": 3, "tickSize": -12
    },
    "axisX": {"labelPadding": 32, "titlePadding": 10},
    "axisY": {"labelPadding": 31, "titlePadding": -4},
    "legend": {"labelFont": "Liberation Serif", "labelFontSize": 58, "labelColor": "black", "labelLimit": 1000},
    "title": {"font": "Liberation Serif", "fontSize": 63, "fontWeight": "normal", "color": "black"}
  }
}
